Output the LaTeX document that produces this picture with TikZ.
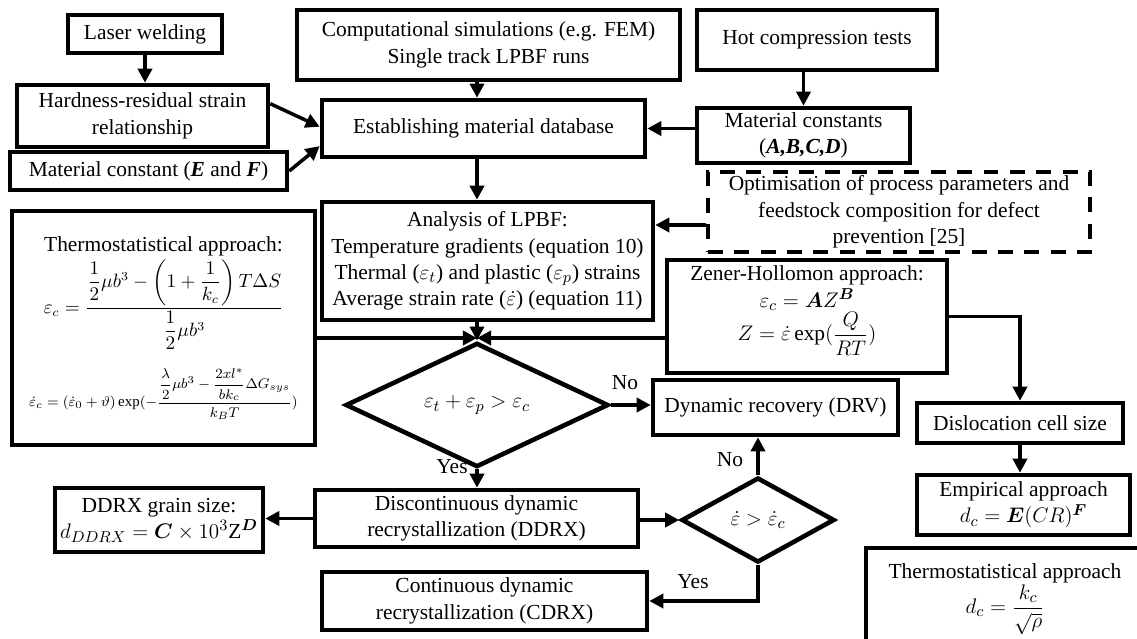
\documentclass[tikz,border=0pt]{standalone}
\usepackage{fontspec}
\setmainfont{Liberation Serif}
\usepackage{amsmath,bm}
\usetikzlibrary{arrows.meta,shapes.geometric}

\begin{document}
\begin{tikzpicture}[x=0.02cm,y=-0.02cm,
    every node/.style={font=\fontsize{12.2}{15}\selectfont,align=center,inner sep=1pt},
    box/.style={draw=black,line width=2.6pt,rectangle},
    dbox/.style={draw=black,line width=2.6pt,dash pattern=on 8.5pt off 6.5pt},
    dec/.style={draw=black,line width=2.6pt,diamond,inner sep=0pt},
    arr/.style={draw=black,line width=2pt,-{Triangle[length=8pt,width=8pt]}},
    lbl/.style={draw=none}]
    \useasboundingbox (0,0) rectangle (1137,639);

    \node(lw)[box,minimum width=3.08cm,minimum height=0.76cm] at (145,34) {Laser welding};
    \node(hr)[box,minimum width=5.02cm,minimum height=1.24cm] at (142.5,116) {Hardness-residual strain\\relationship};
    \node(mce)[box,minimum width=5.54cm,minimum height=0.76cm] at (148.5,171) {Material constant (\textbf{\textit{E}} and \textbf{\textit{F}})};
    \node(comp)[box,minimum width=7.66cm,minimum height=1.4cm] at (488.5,45) {Computational simulations (e.g. FEM)\\Single track LPBF runs};
    \node(est)[box,minimum width=6.46cm,minimum height=1.14cm] at (483.5,128.5) {Establishing material database};
    \node(hc)[box,minimum width=4.8cm,minimum height=1.2cm] at (817,40) {Hot compression tests};
    \node(mcs)[box,minimum width=4.26cm,minimum height=1.1cm] at (803.5,135.5) {Material constants\\(\textbf{\textit{A,B,C,D}})};
    \node(opt)[dbox,minimum width=7.64cm,minimum height=1.6cm] at (899,212) {Optimisation of process parameters and\\feedstock composition for defect\\prevention [25]};
    \node(ana)[box,minimum width=6.62cm,minimum height=2.36cm] at (487.5,261) {Analysis of LPBF:\\Temperature gradients (equation 10)\\Thermal ($\varepsilon_t$) and plastic ($\varepsilon_p$) strains\\Average strain rate ($\dot{\varepsilon}$) (equation 11)};
    \node(thl)[box,minimum width=6.06cm,minimum height=4.68cm] at (163.5,328) {Thermostatistical approach:\\[1pt]
        {\fontsize{10.5}{12}\selectfont$\displaystyle\varepsilon_c=\frac{\dfrac{1}{2}\mu b^3-\left(1+\dfrac{1}{k_c}\right)T\Delta S}{\dfrac{1}{2}\mu b^3}$}\\[10pt]
        {\fontsize{8.5}{10}\selectfont$\dot{\varepsilon}_c=(\dot{\varepsilon}_0+\vartheta)\exp(-\dfrac{\dfrac{\lambda}{2}\mu b^3-\dfrac{2xl^*}{bk_c}\Delta G_{sys}}{k_BT})$}};
    \node(zh)[box,minimum width=5.6cm,minimum height=2.26cm] at (807,316.5) {Zener-Hollomon approach:\\$\varepsilon_c=\bm{A}Z^{\bm{B}}$\\$Z=\dot{\varepsilon}\exp(\dfrac{Q}{RT})$\\[0pt]\mbox{}};
    \node(d1)[dec,minimum width=5.26cm,minimum height=1.72cm] at (477,405) {$\varepsilon_t+\varepsilon_p>\varepsilon_c$};
    \node(drv)[box,minimum width=4.9cm,minimum height=1.1cm] at (775.5,407.5) {Dynamic recovery (DRV)};
    \node(dis)[box,minimum width=4.12cm,minimum height=0.8cm] at (1020,423) {Dislocation cell size};
    \node(emp)[box,minimum width=4.26cm,minimum height=1.2cm] at (1023.5,505) {Empirical approach\\$d_c=\bm{E}(CR)^{\bm{F}}$};
    \node(thr)[box,minimum width=5.56cm,minimum height=2.04cm] at (1005,599) {Thermostatistical approach\\$d_c=\dfrac{k_c}{\sqrt{\rho}}$};
    \node(ddrx)[box,minimum width=6.46cm,minimum height=1.14cm] at (476.5,518.5) {Discontinuous dynamic\\recrystallization (DDRX)};
    \node(dgs)[box,minimum width=4.16cm,minimum height=1.28cm] at (159,520) {DDRX grain size:\\$d_{DDRX}=\bm{C}\times10^3\mathrm{Z}^{\bm{D}}$};
    \node(d2)[dec,minimum width=3.06cm,minimum height=1.7cm] at (758,520) {$\dot{\varepsilon}>\dot{\varepsilon}_c$};
    \node(cdrx)[box,minimum width=6.5cm,minimum height=1.16cm] at (484.5,601) {Continuous dynamic\\recrystallization (CDRX)};

    \node(no1)[lbl] at (625,383) {No};
    \node(yes1)[lbl] at (452,467) {Yes};
    \node(no2)[lbl] at (730,460) {No};
    \node(yes2)[lbl] at (693,582) {Yes};

    \coordinate(j) at (477,338);

    \path[arr](lw.south) -- (lw.south |- hr.north);
    \path[arr]([yshift=7pt]hr.east) -- ([yshift=1pt]est.west);
    \path[arr](mce.east) -- ([yshift=-10pt]est.west);
    \path[arr](comp.south -| d1.north) -- (est.north -| d1.north);
    \path[arr](hc.south -| mcs.north) -- (mcs.north);
    \path[arr](mcs.west |- est.east) -- (est.east);
    \path[arr](est.south -| d1.north) -- (ana.north -| d1.north);
    \path[arr]([yshift=-7.4pt]opt.west) -- ([yshift=-7.4pt]opt.west -| ana.east);

    \path[arr](ana.south -| d1.north) -- (d1.north);
    \path[arr](thl.east |- j) -- (j);
    \path[arr](zh.west |- j) -- (j);

    \path[arr](d1.east) -- (drv.west |- d1.east);
    \path[arr](d1.south) -- (ddrx.north -| d1.south);
    \path[arr](ddrx.west) -- (dgs.east |- ddrx.west);
    \path[arr](ddrx.east |- d2.west) -- (d2.west);
    \path[arr](d2.north) -- (drv.south -| d2.north);
    \path[arr](d2.south) |- (cdrx.east);

    \path[arr](zh.east) -| (dis.north);
    \path[arr](dis.south) -- (dis.south |- emp.north);

  \end{tikzpicture}
\end{document}
